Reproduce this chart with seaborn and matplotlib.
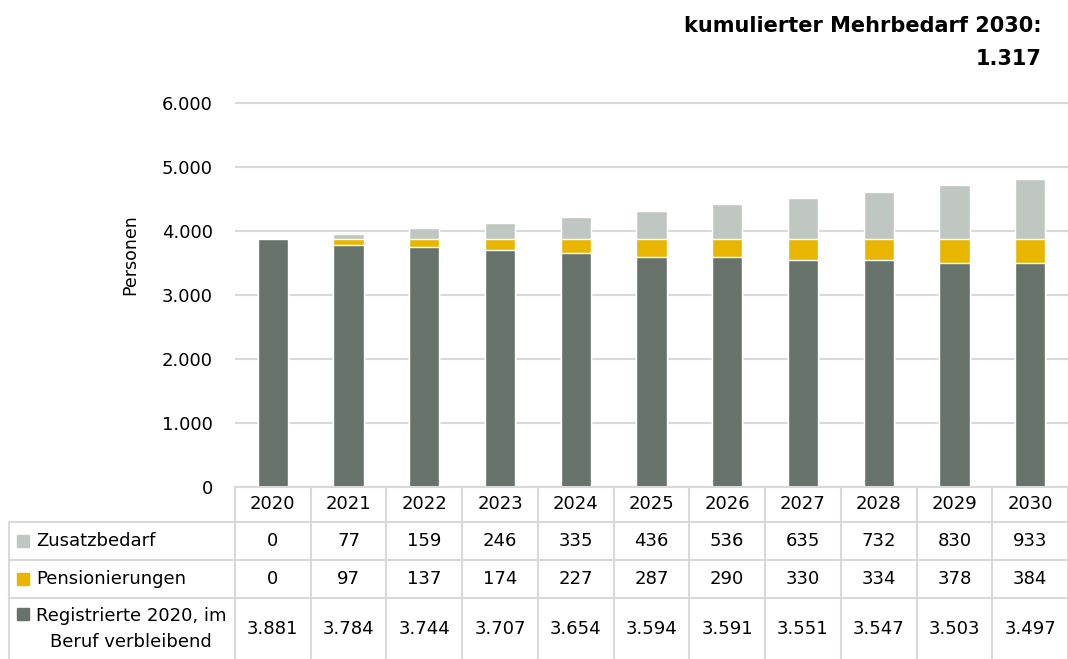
import numpy as np
import pandas as pd
import seaborn as sns
import matplotlib.pyplot as plt
from matplotlib.patches import Rectangle

# Data
years = ['2020', '2021', '2022', '2023', '2024', '2025', '2026', '2027', '2028', '2029', '2030']
zusatzbedarf = [0, 77, 159, 246, 335, 436, 536, 635, 732, 830, 933]
pensionierungen = [0, 97, 137, 174, 227, 287, 290, 330, 334, 378, 384]
registrierte = [3881, 3784, 3744, 3707, 3654, 3594, 3591, 3551, 3547, 3503, 3497]

series_labels = ['Zusatzbedarf', 'Pensionierungen', 'Registrierte 2020, im\nBeruf verbleibend']
colors = ['#C0C6C2', '#E8B500', '#67726A']
title_lines = ['kumulierter Mehrbedarf 2030:', '1.317']


def de_fmt(v):
    return f'{int(v):,}'.replace(',', '.')


df = pd.DataFrame({'Jahr': years, 'Zusatzbedarf': zusatzbedarf,
                   'Pensionierungen': pensionierungen, 'Registrierte': registrierte})
df['top_pens'] = df['Registrierte'] + df['Pensionierungen']
df['top_all'] = df['top_pens'] + df['Zusatzbedarf']

sns.set_style('white')
plt.rcParams['font.family'] = ['DejaVu Sans']
plt.rcParams['text.color'] = 'black'
plt.rcParams['ytick.color'] = 'black'

W, H = 1068, 659
fig = plt.figure(figsize=(W / 100, H / 100), dpi=100)

# Main bar axes
ax = fig.add_axes([235 / W, (H - 487) / H, 833 / W, 385 / H])
ax.set_facecolor('none')

# stacked bars drawn back to front
sns.barplot(data=df, x='Jahr', y='top_all', color=colors[0], width=0.4,
            edgecolor='white', linewidth=1, ax=ax, zorder=3, saturation=1)
sns.barplot(data=df, x='Jahr', y='top_pens', color=colors[1], width=0.4,
            edgecolor='white', linewidth=1, ax=ax, zorder=3, saturation=1)
sns.barplot(data=df, x='Jahr', y='Registrierte', color=colors[2], width=0.4,
            edgecolor='white', linewidth=1, ax=ax, zorder=3, saturation=1)

ax.set_xlim(-0.5, len(years) - 0.5)
ax.set_ylim(0, 6015)
ax.set_yticks(np.arange(0, 6001, 1000))
ax.set_yticklabels([de_fmt(v) for v in np.arange(0, 6001, 1000)], fontsize=13)
ax.tick_params(axis='y', length=0, pad=16, labelcolor='black')
ax.set_xticks([])
ax.set_xlabel('')
ax.set_ylabel('')
ax.yaxis.grid(True, color='#D9D9D9', linewidth=1.5, zorder=0)
ax.set_axisbelow(True)
for s in ax.spines.values():
    s.set_visible(False)

fig.text(130 / W, 1 - 255 / H, 'Personen', rotation=90, ha='center', va='center', fontsize=12.5)

# Title
fig.text(1042 / W, 1 - 32 / H, title_lines[0], ha='right', va='baseline', fontsize=15, fontweight='bold')
fig.text(1042 / W, 1 - 65 / H, title_lines[1], ha='right', va='baseline', fontsize=15, fontweight='bold')

# Data table below the chart
tab = fig.add_axes([235 / W, 0, 833 / W, (H - 487) / H])
tab.set_xlim(-0.5, len(years) - 0.5)
tab.set_ylim(H, 487)
tab.axis('off')

px = 833 / len(years)  # pixels per column
left_edge = -0.5 - (235 - 9) / px
line_kw = dict(color='#D9D9D9', linewidth=1.5, clip_on=False, zorder=1)

row_lines = [522, 560, 598]
row_centers = [541, 579, 629]
tab.plot([-0.5, len(years) - 0.5], [487, 487], **line_kw)
for y in row_lines:
    tab.plot([left_edge, len(years) - 0.5], [y, y], **line_kw)
for k in range(len(years) + 1):
    tab.plot([k - 0.5, k - 0.5], [487, H], **line_kw)
tab.plot([left_edge, left_edge], [522, H], **line_kw)

for i, yr in enumerate(years):
    tab.text(i, 504, yr, ha='center', va='center', fontsize=13, clip_on=False)

table_rows = [zusatzbedarf, pensionierungen, registrierte]
for r, vals in enumerate(table_rows):
    for i, v in enumerate(vals):
        tab.text(i, row_centers[r], de_fmt(v), ha='center', va='center', fontsize=13, clip_on=False)

sw = 12 / px
swatch_x = -0.5 - (235 - 17) / px
label_x = -0.5 - (235 - 36) / px
for r, lab in enumerate(series_labels):
    sy = row_centers[r] if r < 2 else 614
    tab.add_patch(Rectangle((swatch_x, sy - 6), sw, 12, color=colors[r], clip_on=False))
    if r < 2:
        tab.text(label_x, row_centers[r], lab, ha='left', va='center', fontsize=13, clip_on=False)
    else:
        tab.text(-0.5 - (235 - 131) / px, row_centers[r], lab, ha='center', va='center',
                 multialignment='center', fontsize=13, linespacing=1.6, clip_on=False)

fig.savefig('out.png', dpi=100)
